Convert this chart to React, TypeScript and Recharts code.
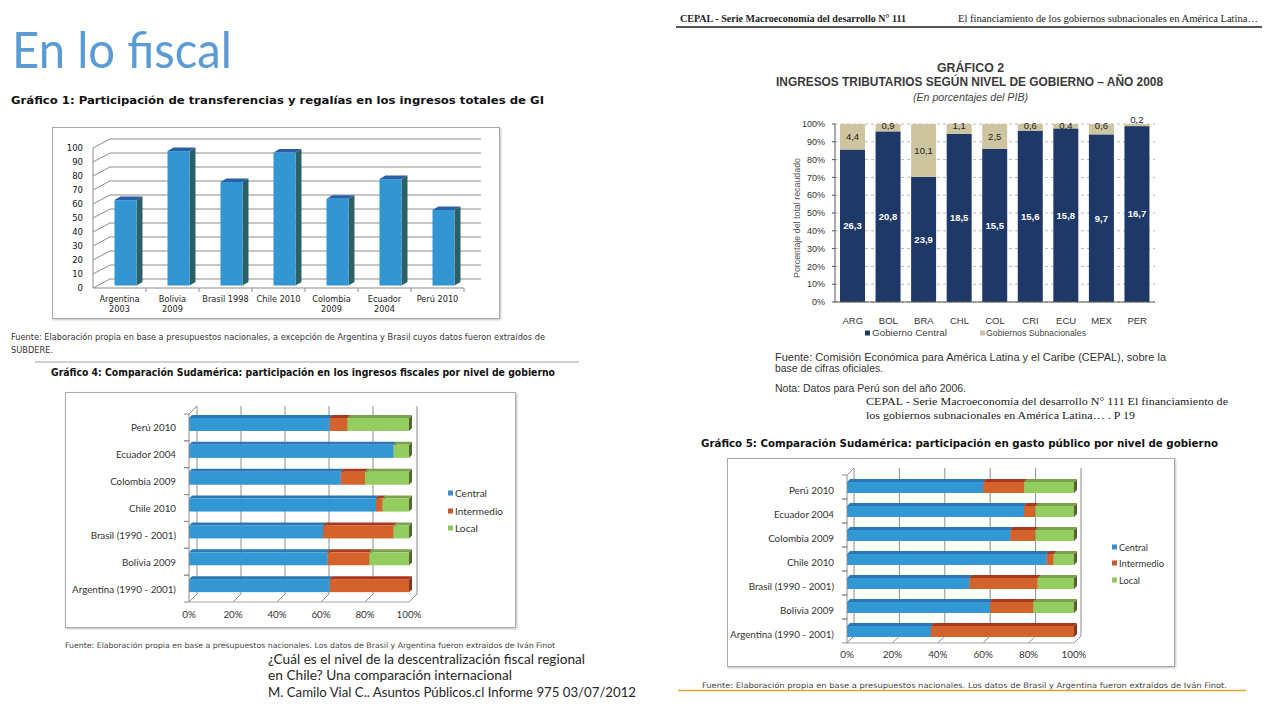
import { BarChart, Bar, XAxis, YAxis, CartesianGrid } from "recharts";

// Gráfico 1: transferencias y regalías (% ingresos totales GI)
const g1Labels = ["Argentina\n2003", "Bolivia\n2009", "Brasil 1998", "Chile 2010", "Colombia\n2009", "Ecuador\n2004", "Perú 2010"];
const g1Values = [61, 96, 74, 95, 62, 76, 54];
const g1Ticks = [0, 10, 20, 30, 40, 50, 60, 70, 80, 90, 100];

// Gráfico 2: ingresos tributarios según nivel de gobierno (% PIB)
const g2Countries = ["ARG", "BOL", "BRA", "CHL", "COL", "CRI", "ECU", "MEX", "PER"];
const g2Central = [26.3, 20.8, 23.9, 18.5, 15.5, 15.6, 15.8, 9.7, 16.7];
const g2Subnational = [4.4, 0.9, 10.1, 1.1, 2.5, 0.6, 0.4, 0.6, 0.2];
const g2Ticks = [0, 0.1, 0.2, 0.3, 0.4, 0.5, 0.6, 0.7, 0.8, 0.9, 1];

// Gráficos 4 y 5: participación por nivel de gobierno
const sudCountries = ["Perú 2010", "Ecuador 2004", "Colombia 2009", "Chile 2010", "Brasil (1990 - 2001)", "Bolivia 2009", "Argentina (1990 - 2001)"];
const g4Central = [64, 93, 69, 85, 61, 63, 64];
const g4Intermedio = [8, 0, 11, 3, 32, 19, 36];
const g4Local = [28, 7, 20, 12, 7, 18, 0];
const g5Central = [60, 78, 72, 88, 54, 63, 37];
const g5Intermedio = [18, 5, 11, 3, 30, 19, 63];
const g5Local = [22, 17, 17, 9, 16, 18, 0];
const pctTicks = [0, 0.2, 0.4, 0.6, 0.8, 1];

const NAVY = "#1E3867";
const BEIGE = "#CDC4A0";
const SERIES = {
  central: { front: "#3397D3", top: "#2A78B5", side: "#23608C", key: "#3A8FCB" },
  intermedio: { front: "#D4622B", top: "#A9381C", side: "#873818", key: "#C9572C" },
  local: { front: "#94CD5F", top: "#7BA24A", side: "#566630", key: "#8FC55C" },
};

const pct = (v: number) => `${Math.round(v * 100)}%`;
const comma = (v: number) => v.toFixed(1).replace(".", ",");

const T = ({ x, y, w, s, f = "DejaVu Sans", c = "#222", b = false, it = false, wt, children }: any) => (
  <text
    x={x}
    y={y}
    fontSize={s}
    fontFamily={f}
    fill={c}
    fontWeight={wt ?? (b ? "bold" : "normal")}
    fontStyle={it ? "italic" : "normal"}
    textLength={w}
    lengthAdjust="spacingAndGlyphs"
  >
    {children}
  </text>
);

const Box = ({ l, t, r, b }: any) => (
  <div
    style={{
      position: "absolute",
      left: l,
      top: t,
      width: r - l,
      height: b - t,
      border: "1px solid #a9a9a9",
      boxShadow: "1px 1px 2px rgba(0,0,0,0.25)",
      boxSizing: "border-box",
    }}
  />
);

// ---------- Gráfico 1 ----------
const Column3D = (p: any) => {
  const { x, y, width, height } = p;
  const fx = x + 5.5;
  const fy = y - 2.5;
  const dx = 6;
  const dy = 3.5;
  return (
    <g>
      <polygon
        points={`${fx + width},${fy} ${fx + width + dx},${fy - dy} ${fx + width + dx},${fy + height - dy} ${fx + width},${fy + height}`}
        fill="#2C6067"
      />
      <polygon points={`${fx},${fy} ${fx + dx},${fy - dy} ${fx + width + dx},${fy - dy} ${fx + width},${fy}`} fill="#2A5EA6" />
      <rect x={fx} y={fy} width={width} height={height} fill="#3196D1" />
    </g>
  );
};

const wall1 = (p: any) => {
  const floor = p.y1 >= 287;
  const d = floor
    ? `M${p.x1},${p.y1} L${p.x1 + 17},${p.y1 - 9} L${p.x2 + 17},${p.y1 - 9} L${p.x2},${p.y1}`
    : `M${p.x1},${p.y1} L${p.x1 + 17},${p.y1 - 9} L${p.x2 + 17},${p.y1 - 9}`;
  return <path key={`w1-${p.index}-${p.y1}`} d={d} stroke="#8c8c8c" strokeWidth={1} fill="none" />;
};

const G1Tick = (p: any) => {
  const { x, y, payload } = p;
  const lines = String(payload.value).split("\n");
  const half = 371 / g1Labels.length / 2;
  return (
    <g>
      <line x1={x + half} y1={y} x2={x + half} y2={y + 4} stroke="#8c8c8c" />
      <text x={x} y={y + 14} textAnchor="middle" fontSize={8.2} fontFamily="DejaVu Sans" fill="#222">
        {lines.map((l, i) => (
          <tspan key={i} x={x} dy={i === 0 ? 0 : 10}>
            {l}
          </tspan>
        ))}
      </text>
    </g>
  );
};

const Chart1 = () => {
  const data = g1Labels.map((label, i) => ({ label, value: g1Values[i] }));
  return (
    <div style={{ position: "absolute", left: 52, top: 127 }}>
      <BarChart width={448} height={192} data={data} barSize={22} margin={{ top: 21, right: 36, bottom: 0, left: 0 }}>
        <CartesianGrid vertical={false} horizontal={wall1} />
        <XAxis dataKey="label" height={31} interval={0} tickSize={0} tickMargin={0} tickLine={false} axisLine={{ stroke: "#8c8c8c" }} tick={<G1Tick />} />
        <YAxis
          width={41}
          domain={[0, 100]}
          ticks={g1Ticks}
          interval={0}
          tickSize={0}
          tickMargin={10}
          tickLine={false}
          axisLine={{ stroke: "#8c8c8c" }}
          tick={{ fontSize: 8.5, fill: "#111", fontFamily: "DejaVu Sans" }}
        />
        <Bar dataKey="value" shape={Column3D} isAnimationActive={false} />
      </BarChart>
    </div>
  );
};

// ---------- Gráfico 2 ----------
const CentralBar = (p: any) => {
  const { x, y, width, height, payload } = p;
  return (
    <g>
      <rect x={x} y={y} width={width} height={height} fill={NAVY} />
      <text x={x + width / 2} y={y + height / 2 + 3.4} textAnchor="middle" fontSize={9.5} fontWeight="bold" fontFamily="Liberation Sans" fill="#fff">
        {comma(payload.central)}
      </text>
    </g>
  );
};

const SubBar = (p: any) => {
  const { x, y, width, height, payload } = p;
  const cy = height >= 12 ? y + height / 2 : height >= 4 ? y + 1.5 : y - 4;
  return (
    <g>
      <rect x={x} y={y} width={width} height={height} fill={BEIGE} />
      <text x={x + width / 2} y={cy + 3.4} textAnchor="middle" fontSize={9.5} fontFamily="Liberation Sans" fill="#222">
        {comma(payload.sub)}
      </text>
    </g>
  );
};

const Chart2 = () => {
  const data = g2Countries.map((country, i) => ({ country, central: g2Central[i], sub: g2Subnational[i] }));
  return (
    <div style={{ position: "absolute", left: 775, top: 100 }}>
      <BarChart width={400} height={245} data={data} stackOffset="expand" barSize={25} margin={{ top: 24, right: 20, bottom: 0, left: 0 }}>
        <CartesianGrid vertical={false} stroke="#b8b8b8" strokeDasharray="3 3" />
        <XAxis
          dataKey="country"
          height={43}
          interval={0}
          tickLine={false}
          tickSize={0}
          tickMargin={15}
          axisLine={{ stroke: "#555" }}
          tick={{ fontSize: 9.5, fill: "#333", fontFamily: "Liberation Sans" }}
        />
        <YAxis
          width={60}
          domain={[0, 1]}
          ticks={g2Ticks}
          interval={0}
          tickFormatter={pct}
          tickSize={3}
          tickMargin={7}
          tickLine={{ stroke: "#555" }}
          axisLine={{ stroke: "#555" }}
          tick={{ fontSize: 9, fill: "#333", fontFamily: "Liberation Sans" }}
        />
        <Bar dataKey="central" stackId="g" shape={CentralBar} isAnimationActive={false} />
        <Bar dataKey="sub" stackId="g" shape={SubBar} isAnimationActive={false} />
      </BarChart>
    </div>
  );
};

// ---------- Gráficos 4 y 5 ----------
const makeHBar = (c: any, dy: number) => (p: any) => {
  const { x, y, width, height } = p;
  if (!(width > 0.1)) return <g />;
  const fy = y + dy;
  const d = 3;
  return (
    <g>
      <polygon points={`${x + width},${fy} ${x + width + d},${fy - d} ${x + width + d},${fy + height - d} ${x + width},${fy + height}`} fill={c.side} />
      <polygon points={`${x},${fy} ${x + d},${fy - d} ${x + width + d},${fy - d} ${x + width},${fy}`} fill={c.top} />
      <rect x={x} y={fy} width={width} height={height} fill={c.front} />
    </g>
  );
};

const makeWallV = (depth: number) => (p: any) => {
  const first = p.index === 0;
  const d =
    `M${p.x1},${p.y2} L${p.x1 + depth},${p.y2 - depth} L${p.x1 + depth},${p.y1 - depth}` +
    (first ? ` M${p.x1},${p.y1} L${p.x1 + depth},${p.y1 - depth}` : "");
  return <path key={`wv-${p.index}-${p.x1}`} d={d} stroke="#8c8c8c" strokeWidth={1} fill="none" />;
};

const makeCatTick = (band: number, labelDy: number, margin: number) => (p: any) => {
  const { x, y, payload } = p;
  const ax = x + margin;
  return (
    <g>
      <line x1={ax - 5} x2={ax} y1={y - band / 2} y2={y - band / 2} stroke="#8c8c8c" />
      <line x1={ax - 5} x2={ax} y1={y + band / 2} y2={y + band / 2} stroke="#8c8c8c" />
      <text x={x} y={y + labelDy} textAnchor="end" fontSize={9.8} fontFamily="Lato" fill="#333">
        {payload.value}
      </text>
    </g>
  );
};

const HChart = ({ left, top, width, height, yWidth, right, topM, xHeight, barSize, barDy, labelDy, depth, xMargin, central, inter, local }: any) => {
  const data = sudCountries.map((country, i) => ({ country, central: central[i], intermedio: inter[i], local: local[i] }));
  const band = (height - topM - xHeight) / sudCountries.length;
  const CatTick = makeCatTick(band, labelDy, 13);
  return (
    <div style={{ position: "absolute", left, top }}>
      <BarChart
        width={width}
        height={height}
        data={data}
        layout="vertical"
        stackOffset="expand"
        barSize={barSize}
        margin={{ top: topM, right, bottom: 0, left: 0 }}
      >
        <CartesianGrid horizontal={false} vertical={makeWallV(depth)} />
        <XAxis
          type="number"
          domain={[0, 1]}
          ticks={pctTicks}
          interval={0}
          tickFormatter={pct}
          height={xHeight}
          tickSize={0}
          tickMargin={xMargin}
          tickLine={false}
          axisLine={{ stroke: "#a6a6a6" }}
          tick={{ fontSize: 9.8, fill: "#333", fontFamily: "Lato" }}
        />
        <YAxis
          type="category"
          dataKey="country"
          width={yWidth}
          interval={0}
          tickSize={0}
          tickMargin={13}
          tickLine={false}
          axisLine={{ stroke: "#8c8c8c" }}
          tick={<CatTick />}
        />
        <Bar dataKey="central" stackId="s" shape={makeHBar(SERIES.central, barDy)} isAnimationActive={false} />
        <Bar dataKey="intermedio" stackId="s" shape={makeHBar(SERIES.intermedio, barDy)} isAnimationActive={false} />
        <Bar dataKey="local" stackId="s" shape={makeHBar(SERIES.local, barDy)} isAnimationActive={false} />
      </BarChart>
    </div>
  );
};

const SudLegend = ({ x, ys, ws }: any) => (
  <g>
    {(["central", "intermedio", "local"] as const).map((k, i) => (
      <g key={k}>
        <rect x={x} y={ys[i] - 2.5} width={5} height={5} fill={SERIES[k].key} />
        <T x={x + 7} y={ys[i] + 3.6} w={ws[i]} s={10.3} f="Lato" c="#333">
          {["Central", "Intermedio", "Local"][i]}
        </T>
      </g>
    ))}
  </g>
);

export default function App() {
  return (
    <div style={{ position: "absolute", left: 0, top: 0, width: 1280, height: 720, background: "#fff", overflow: "hidden" }}>
      <Box l={52} t={127} r={500} b={319} />
      <Box l={65} t={392} r={516} b={628} />
      <Box l={727} t={458} r={1175} b={667} />

      <Chart1 />
      <Chart2 />
      <HChart
        left={65}
        top={392}
        width={451}
        height={236}
        yWidth={124}
        right={107}
        topM={22}
        xHeight={26}
        barSize={13}
        barDy={-3}
        labelDy={4}
        depth={8}
        xMargin={9}
        central={g4Central}
        inter={g4Intermedio}
        local={g4Local}
      />
      <HChart
        left={727}
        top={458}
        width={448}
        height={209}
        yWidth={120}
        right={101}
        topM={17}
        xHeight={24}
        barSize={11}
        barDy={0}
        labelDy={6.5}
        depth={7}
        xMargin={8}
        central={g5Central}
        inter={g5Intermedio}
        local={g5Local}
      />

      <svg width={1280} height={720} style={{ position: "absolute", left: 0, top: 0, pointerEvents: "none" }}>
        <T x={12} y={68} w={220} s={50} f="Lato" c="#5B9BD5" wt={400}>En lo fiscal</T>

        <T x={11} y={104} w={533} s={10.5} b c="#111">Gráfico 1: Participación de transferencias y regalías en los ingresos totales de GI</T>
        <T x={11} y={340} w={534} s={8.3} c="#333">Fuente: Elaboración propia en base a presupuestos nacionales, a excepción de Argentina y Brasil cuyos datos fueron extraídos de</T>
        <T x={11} y={353} w={42} s={8.3} c="#333">SUBDERE.</T>
        <line x1={35} y1={362} x2={579} y2={362} stroke="#a0a0a0" />

        <T x={51} y={375.5} w={504} s={10} b c="#111">Gráfico 4: Comparación Sudamérica: participación en los ingresos fiscales por nivel de gobierno</T>
        <SudLegend x={448} ys={[493, 511, 528]} ws={[32, 48, 23]} />
        <T x={65} y={648} w={490} s={7.6} c="#444">Fuente: Elaboración propia en base a presupuestos nacionales. Los datos de Brasil y Argentina fueron extraídos de Iván Finot</T>

        <T x={268} y={663.5} w={317} s={13} f="Lato" c="#262626">¿Cuál es el nivel de la descentralización fiscal regional</T>
        <T x={268} y={679.5} w={244} s={13} f="Lato" c="#262626">en Chile? Una comparación internacional</T>
        <T x={268} y={696.5} w={368} s={13} f="Lato" c="#262626">M. Camilo Vial C.. Asuntos Públicos.cl Informe 975 03/07/2012</T>

        <T x={680} y={22} w={226} s={11} f="Liberation Serif" b c="#222">CEPAL - Serie Macroeconomía del desarrollo N° 111</T>
        <T x={958} y={22} w={300} s={11} f="Liberation Serif" c="#222">El financiamiento de los gobiernos subnacionales en América Latina…</T>
        <line x1={676} y1={27} x2={1262} y2={27} stroke="#555" strokeWidth={2} />
        <T x={937} y={72} w={67} s={12.5} f="Liberation Sans" b c="#3a3a3a">GRÁFICO 2</T>
        <T x={776} y={86} w={387} s={12.5} f="Liberation Sans" b c="#3a3a3a">INGRESOS TRIBUTARIOS SEGÚN NIVEL DE GOBIERNO – AÑO 2008</T>
        <T x={913} y={101} w={115} s={10} f="Liberation Sans" it c="#444">(En porcentajes del PIB)</T>
        <text
          x={797}
          y={221}
          transform="rotate(-90 797 218)"
          textAnchor="middle"
          fontSize={9}
          fontFamily="Liberation Sans"
          fill="#555"
          textLength={120}
          lengthAdjust="spacingAndGlyphs"
        >
          Porcentaje del total recaudado
        </text>
        <rect x={865} y={330.5} width={5} height={5} fill={NAVY} />
        <T x={872} y={336.3} w={75} s={9} f="Liberation Sans" c="#444">Gobierno Central</T>
        <rect x={980} y={330.5} width={5} height={5} fill={BEIGE} />
        <T x={986} y={336.3} w={100} s={9} f="Liberation Sans" c="#444">Gobiernos Subnacionales</T>
        <T x={775} y={360.5} w={391} s={10.5} f="Liberation Sans" c="#333">Fuente: Comisión Económica para América Latina y el Caribe (CEPAL), sobre la</T>
        <T x={775} y={372} w={108} s={10.5} f="Liberation Sans" c="#333">base de cifras oficiales.</T>
        <T x={775} y={391.5} w={191} s={10.5} f="Liberation Sans" c="#333">Nota: Datos para Perú son del año 2006.</T>
        <T x={866} y={405} w={362} s={11} f="Liberation Serif" c="#222">CEPAL - Serie Macroeconomía del desarrollo N° 111 El financiamiento  de</T>
        <T x={866} y={419} w={269} s={11} f="Liberation Serif" c="#222">los gobiernos subnacionales  en América Latina… . P 19</T>

        <T x={701} y={446.5} w={517} s={10} b c="#111">Gráfico 5: Comparación Sudamérica: participación en gasto público por nivel de gobierno</T>
        <SudLegend x={1112} ys={[547, 563, 580]} ws={[29, 45, 21]} />
        <T x={702} y={688} w={525} s={7.6} c="#444">Fuente: Elaboración propia en base a presupuestos nacionales. Los datos de Brasil y Argentina fueron extraídos de Iván Finot.</T>
        <line x1={678} y1={690.5} x2={1246} y2={690.5} stroke="#E3A53B" strokeWidth={1.5} />
      </svg>
    </div>
  );
}
